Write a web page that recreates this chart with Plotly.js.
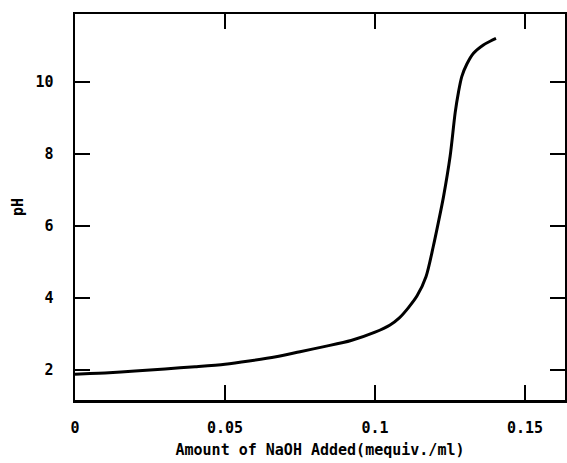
<!DOCTYPE html>
<html>
<head>
<meta charset="utf-8">
<script src="https://cdn.plot.ly/plotly-3.0.1.min.js"></script>
<style>html,body{margin:0;padding:0;background:#fff;}#chart{width:567px;height:463px;}</style>
</head>
<body>
<div id="chart"></div>
<script>
const naohAdded = [0, 0.005, 0.01, 0.02, 0.03, 0.04, 0.05, 0.058, 0.067, 0.075, 0.083, 0.092, 0.1, 0.105, 0.108, 0.111, 0.114, 0.117, 0.1194, 0.1211, 0.1228, 0.125, 0.1267, 0.1278, 0.1289, 0.1306, 0.1328, 0.1361, 0.1385, 0.1403];
const pHValues = [1.88, 1.90, 1.92, 1.97, 2.03, 2.09, 2.16, 2.25, 2.37, 2.51, 2.65, 2.82, 3.05, 3.25, 3.44, 3.72, 4.06, 4.6, 5.43, 6.1, 6.81, 7.93, 9.15, 9.72, 10.15, 10.5, 10.8, 11.03, 11.14, 11.21];
const xTickVals = [0, 0.05, 0.1, 0.15];
const xTickText = ["0", "0.05", "0.1", "0.15"];
const yTickVals = [2, 4, 6, 8, 10];
const xTitle = "Amount of NaOH Added(mequiv./ml)";
const yTitle = "pH";

const fontFam = "'DejaVu Sans Mono', 'Liberation Mono', monospace";

Plotly.newPlot('chart', [{
  x: naohAdded,
  y: pHValues,
  mode: 'lines',
  line: {color: '#000', width: 3, shape: 'spline', smoothing: 0.8},
  hoverinfo: 'skip'
}], {
  width: 567, height: 463,
  margin: {l: 75, r: 2, t: 14, b: 63},
  paper_bgcolor: '#fff', plot_bgcolor: '#fff',
  showlegend: false,
  font: {family: fontFam, color: '#000', size: 15},
  xaxis: {
    range: [0, 0.1633],
    tickvals: xTickVals, ticktext: xTickText,
    ticks: 'inside', ticklen: 15, tickwidth: 2.5, tickcolor: '#000',
    showline: true, linecolor: '#000', linewidth: 2.5, mirror: 'allticks',
    showgrid: false, zeroline: false,
    ticklabelstandoff: 12,
    tickfont: {family: fontFam, size: 15, weight: 'bold'},
    title: {text: xTitle, font: {family: fontFam, size: 15, weight: 'bold'}, standoff: 9}
  },
  yaxis: {
    range: [1.167, 11.89],
    tickvals: yTickVals,
    ticks: 'inside', ticklen: 15, tickwidth: 2.5, tickcolor: '#000',
    showline: true, linecolor: '#000', linewidth: 2.5, mirror: 'allticks',
    showgrid: false, zeroline: false,
    ticklabelstandoff: 16,
    tickfont: {family: fontFam, size: 15, weight: 'bold'},
    title: {text: yTitle, font: {family: fontFam, size: 15, weight: 'bold'}, standoff: 8}
  }
}, {staticPlot: true, displayModeBar: false});
</script>
</body>
</html>
